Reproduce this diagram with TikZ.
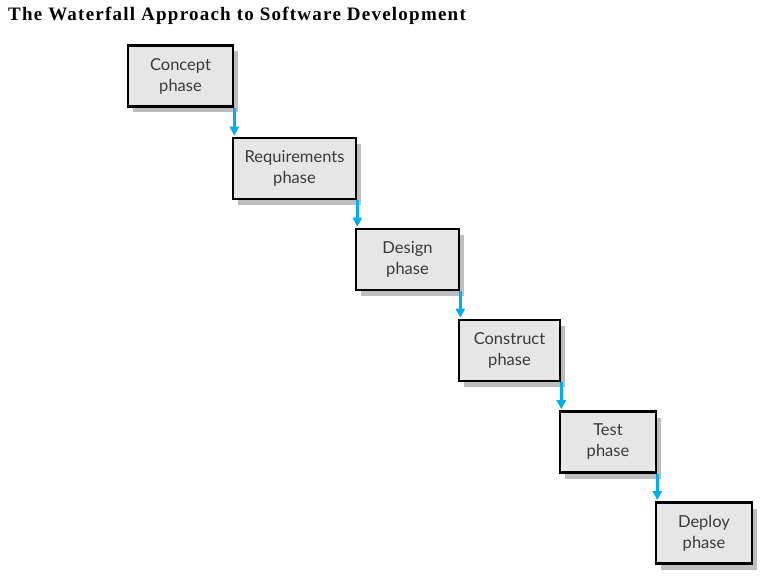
\documentclass[tikz,border=0pt]{standalone}
\usepackage{fontspec}
\setmainfont{Liberation Serif}
\newfontfamily\phasefont{Lato}
\usetikzlibrary{shadows,arrows.meta}

\definecolor{boxgray}{HTML}{E6E6E6}
\definecolor{shadowgray}{HTML}{BDBDC0}
\definecolor{flowblue}{HTML}{00AEEF}
\definecolor{textgray}{HTML}{3A3A3A}

\tikzset{
  phasebox/.style={draw=black, line width=2.6pt, fill=boxgray,
    minimum height=61pt, align=center, inner sep=0pt,
    font=\phasefont\fontsize{16.5}{21}\selectfont, text=textgray,
    general shadow={fill=shadowgray, shadow xshift=5pt, shadow yshift=-6pt}},
  flow/.style={draw=flowblue, line width=3.2pt,
    -{Triangle[length=9pt,width=9pt]}, shorten >=1pt}
}

\begin{document}
\begin{tikzpicture}[x=1pt,y=-1pt]
		%%%%% START %%%%%
		\useasboundingbox (0,0) rectangle (780,580);
		
		\node[anchor=base west, inner sep=0pt, font=\bfseries\fontsize{19}{21}\selectfont\addfontfeature{LetterSpace=6.5}] (title) at (8,21) {The Waterfall Approach to Software Development};
		
		\node[phasebox, minimum width=105pt] (concept) at (180.5,76) {Concept\\phase};
		\node[phasebox, minimum width=123pt] (requirements) at (294.5,168.5) {Requirements\\phase};
		\node[phasebox, minimum width=103pt] (design) at (407.5,259.5) {Design\\phase};
		\node[phasebox, minimum width=101pt] (construct) at (509.5,350.5) {Construct\\phase};
		\node[phasebox, minimum width=96pt] (test) at (608,442) {Test\\phase};
		\node[phasebox, minimum width=96pt] (deploy) at (704,533) {Deploy\\phase};
		
		\draw[flow] (concept.south east) -- (concept.south east |- requirements.north);
		\draw[flow] (requirements.south east) -- (requirements.south east |- design.north);
		\draw[flow] (design.south east) -- (design.south east |- construct.north);
		\draw[flow] (construct.south east) -- (construct.south east |- test.north);
		\draw[flow] (test.south east) -- (test.south east |- deploy.north);
		
		%%%%% END %%%%%
\end{tikzpicture}
\end{document}
